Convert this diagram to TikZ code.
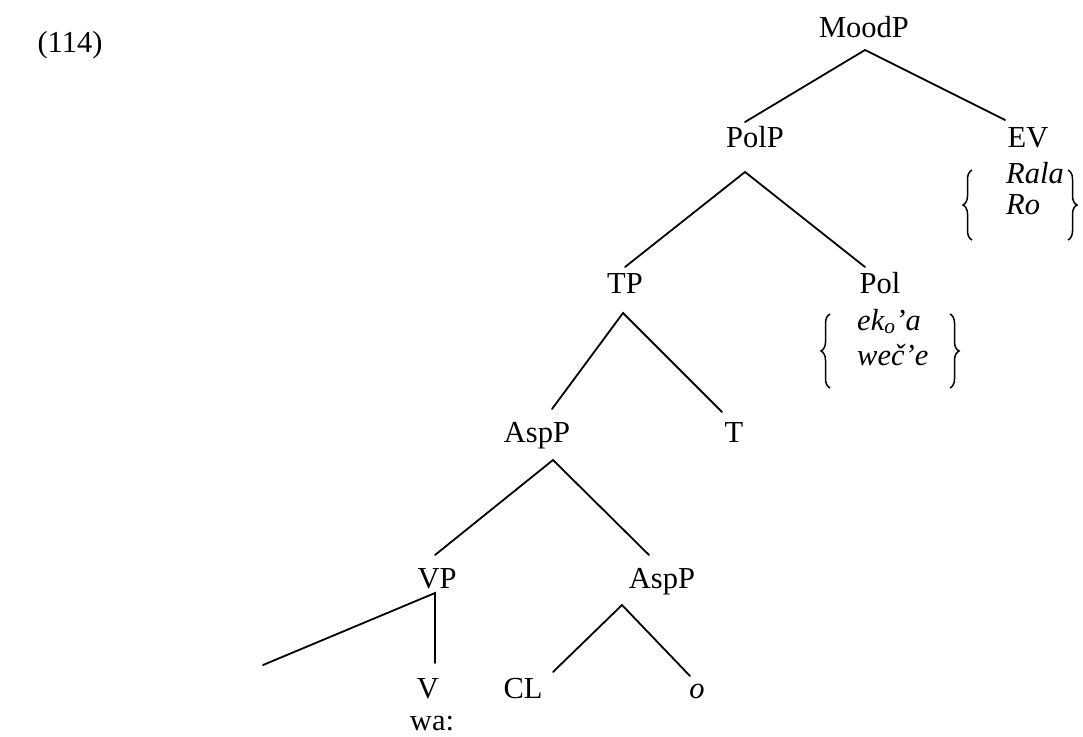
\documentclass[tikz,border=0pt]{standalone}
\usepackage{fontspec}
\setmainfont{Liberation Serif}
\usetikzlibrary{decorations.pathreplacing}
\begin{document}
\begin{tikzpicture}[x=1pt,y=-1pt,
  lbl/.style={inner sep=0pt,anchor=base,font=\fontsize{30.5}{34}\selectfont},
  lbll/.style={inner sep=0pt,anchor=base west,font=\fontsize{30.5}{34}\selectfont\itshape},
  edge/.style={line width=1.8pt,line cap=round},
  brc/.style={line width=1.5pt,decorate,decoration={brace,amplitude=9pt}}]
\useasboundingbox (0,0) rectangle (1083,736);
% labels
\node[lbl] (num) at (70,52) {(114)};
\node[lbl] (moodp) at (864,37) {MoodP};
\node[lbl] (polp) at (755,147) {PolP};
\node[lbl] (ev) at (1028,147) {EV};
\node[lbll] (rala) at (1006,183) {Rala};
\node[lbll] (ro) at (1006,214) {Ro};
\node[lbl] (tp) at (625,293) {TP};
\node[lbl] (pol) at (880,293) {Pol};
\node[lbll] (ekoa) at (857,330) {ek\textsubscript{o}’a};
\node[lbll] (wece) at (857,365) {weč’e};
\node[lbl] (asp1) at (537,442) {AspP};
\node[lbl] (t) at (734,442) {T};
\node[lbl] (vp) at (437,588) {VP};
\node[lbl] (asp2) at (662,588) {AspP};
\node[lbl] (v) at (428,698) {V};
\node[lbl] (cl) at (523,698) {CL};
\node[lbl,font=\fontsize{30.5}{34}\selectfont\itshape] (o) at (697,698) {o};
\node[lbl] (wa) at (432,730) {wa:};
% connector points
\coordinate (moodp-b) at (865,50);
\coordinate (polp-t) at (745,122);
\coordinate (ev-t) at (1005,120);
\coordinate (polp-b) at (745,172);
\coordinate (tp-t) at (625,267);
\coordinate (pol-t) at (865,267);
\coordinate (tp-b) at (623,313);
\coordinate (asp1-t) at (552,409);
\coordinate (t-t) at (722,412);
\coordinate (asp1-b) at (553,460);
\coordinate (vp-t) at (435,555);
\coordinate (asp2-t) at (649,555);
\coordinate (vp-b) at (435,593);
\coordinate (v-t) at (435,663);
\coordinate (spec) at (263,665);
\coordinate (asp2-b) at (622,605);
\coordinate (cl-t) at (553,672);
\coordinate (o-t) at (690,676);
% edges
\draw[edge] (polp-t) -- (moodp-b) -- (ev-t);
\draw[edge] (tp-t) -- (polp-b) -- (pol-t);
\draw[edge] (asp1-t) -- (tp-b) -- (t-t);
\draw[edge] (vp-t) -- (asp1-b) -- (asp2-t);
\draw[edge] (spec) -- (vp-b) -- (v-t);
\draw[edge] (cl-t) -- (asp2-b) -- (o-t);
% braces
\coordinate (evbl-b) at (972,240);
\coordinate (evbl-t) at (972,170);
\coordinate (evbr-t) at (1068,170);
\coordinate (evbr-b) at (1068,240);
\draw[brc] (evbl-b) -- (evbl-t);
\draw[brc] (evbr-t) -- (evbr-b);
\coordinate (polbl-b) at (830,388);
\coordinate (polbl-t) at (830,314);
\coordinate (polbr-t) at (950,314);
\coordinate (polbr-b) at (950,388);
\draw[brc] (polbl-b) -- (polbl-t);
\draw[brc] (polbr-t) -- (polbr-b);
\end{tikzpicture}
\end{document}
